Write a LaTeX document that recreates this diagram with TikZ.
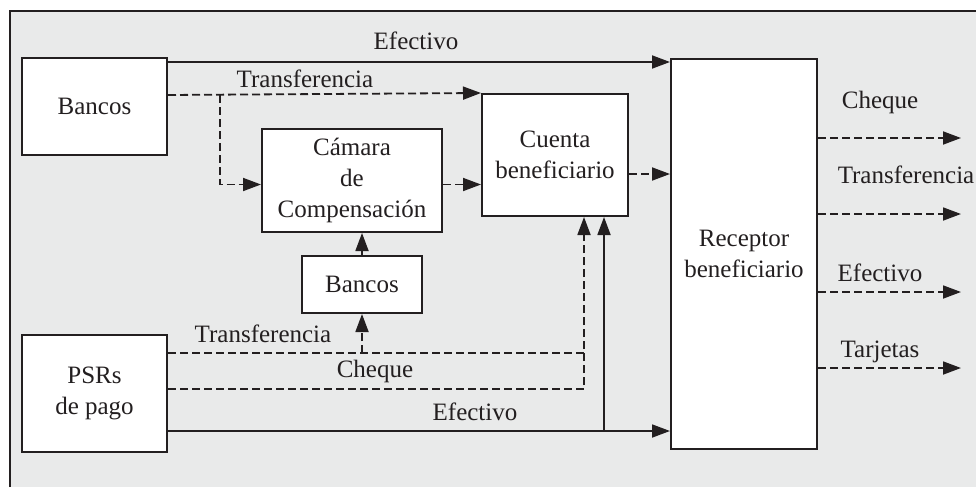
\documentclass[tikz,border=0pt]{standalone}
\usepackage{fontspec}
\setmainfont{Liberation Serif}
\usetikzlibrary{arrows.meta}
\definecolor{bgcol}{RGB}{233,234,234}
\definecolor{inkcol}{RGB}{35,31,32}
\tikzset{
  box/.style={draw=inkcol, line width=2pt, fill=white, inner sep=2pt, align=center, font=\fontsize{25}{31}\selectfont, text=inkcol},
  lbl/.style={anchor=base, inner sep=0pt, font=\fontsize{25}{31}\selectfont, text=inkcol},
  sline/.style={draw=inkcol, line width=1.8pt},
  dline/.style={draw=inkcol, line width=1.8pt, dash pattern=on 8pt off 4pt},
  tip/.style={-{Triangle[length=18pt,width=13pt]}},
  sarr/.style={sline, tip},
  darr/.style={dline, tip},
}
\begin{document}
\begin{tikzpicture}[x=1pt,y=-1pt]
\useasboundingbox (0,0) rectangle (976,487);
\fill[bgcol] (10,11) rectangle (976,487);
\draw[inkcol, line width=1.6pt] (10,487) -- (10,11) -- (976,11);

% boxes
\node[box, minimum width=145pt, minimum height=97pt] (bancos1) at (94.5,106.5) {Bancos};
\node[box, minimum width=180pt, minimum height=103pt] (camara) at (352,180.5) {Cámara\\de\\Compensación};
\node[box, minimum width=146pt, minimum height=122pt] (cuenta) at (555,155) {Cuenta\\beneficiario};
\node[box, minimum width=146pt, minimum height=390pt] (receptor) at (744,254) {Receptor\\beneficiario};
\node[box, minimum width=120pt, minimum height=57pt] (bancos2) at (362,284.5) {Bancos};
\node[box, minimum width=145pt, minimum height=117pt] (psrs) at (94.5,393.5) {PSRs\\de pago};

% coordinates
\coordinate (e1) at (167,62);
\coordinate (br) at (220,95);
\coordinate (tr) at (584,353);
\coordinate (ch) at (584,389);
\coordinate (ef) at (604,431);
\coordinate (o1) at (961,138);
\coordinate (o2) at (961,214);
\coordinate (o3) at (961,292);
\coordinate (o4) at (961,368);

% top connectors
\draw[sarr] (e1) -- (e1 -| receptor.west);
\draw[darr] (bancos1.east |- br) -- (cuenta.north west);
\draw[darr] (br) |- ([yshift=-4pt]camara.west);
\draw[darr] ([yshift=-4pt]camara.east) -- ([yshift=-4pt]camara.east -| cuenta.west);
\draw[darr] ([yshift=-19pt]cuenta.east) -- ([yshift=-19pt]cuenta.east -| receptor.west);
\draw[darr] (bancos2.north) -- (bancos2.north |- camara.south);

% bottom connectors
\draw[dline] (psrs.east |- tr) -- (tr);
\draw[darr] (psrs.east |- ch) -- (ch) -- (ch |- cuenta.south);
\draw[darr] (bancos2.south |- tr) -- (bancos2.south);
\draw[sarr] (psrs.east |- ef) -- (ef -| receptor.west);
\draw[sarr] (ef) -- (ef |- cuenta.south);

% outgoing
\draw[darr] (receptor.east |- o1) -- (o1);
\draw[darr] (receptor.east |- o2) -- (o2);
\draw[darr] (receptor.east |- o3) -- (o3);
\draw[darr] (receptor.east |- o4) -- (o4);

% labels
\node[lbl] (l1) at (416,50) {Efectivo};
\node[lbl] (l2) at (305,87) {Transferencia};
\node[lbl] (l3) at (880,108) {Cheque};
\node[lbl] (l4) at (906,183) {Transferencia};
\node[lbl] (l5) at (880,281) {Efectivo};
\node[lbl] (l6) at (880,357) {Tarjetas};
\node[lbl] (l7) at (263,342) {Transferencia};
\node[lbl] (l8) at (375,377) {Cheque};
\node[lbl] (l9) at (475,420) {Efectivo};
\end{tikzpicture}
\end{document}
